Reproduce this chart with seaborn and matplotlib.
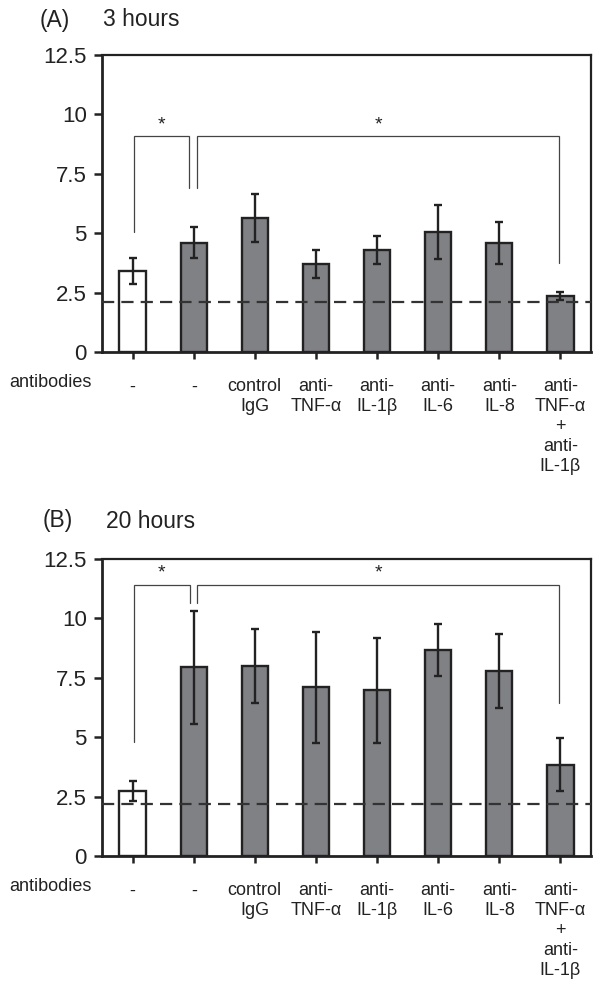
import numpy as np
import pandas as pd
import matplotlib
matplotlib.use("Agg")
import matplotlib.pyplot as plt
import seaborn as sns

# ---------------- data ----------------
groups = ["none_a", "none_b", "igg", "tnf", "il1b", "il6", "il8", "tnf_il1b"]
tick_labels = ["-", "-", "control\nIgG", "anti-\nTNF-α", "anti-\nIL-1β",
               "anti-\nIL-6", "anti-\nIL-8", "anti-\nTNF-α\n+\nanti-\nIL-1β"]
bar_colors = ["#ffffff", "#808185", "#808185", "#808185", "#808185",
              "#808185", "#808185", "#808185"]

vals_3h = [3.4, 4.6, 5.65, 3.7, 4.3, 5.05, 4.6, 2.35]
err_3h = [0.55, 0.66, 1.0, 0.6, 0.6, 1.15, 0.88, 0.17]
baseline_3h = 2.1

vals_20h = [2.75, 7.95, 8.0, 7.1, 6.97, 8.68, 7.8, 3.85]
err_20h = [0.42, 2.38, 1.55, 2.33, 2.2, 1.1, 1.56, 1.12]
baseline_20h = 2.2

yticks = [0, 2.5, 5, 7.5, 10, 12.5]
ytick_labels = ["0", "2.5", "5", "7.5", "10", "12.5"]

# significance brackets: (x_left, x_right, top, left_leg_bottom, right_leg_bottom)
brackets_3h = [(0.02, 0.93, 9.08, 5.06, 6.9), (1.06, 6.98, 9.08, 6.9, 3.75)]
brackets_20h = [(0.02, 0.94, 11.42, 4.8, 10.66), (1.06, 6.98, 11.42, 10.66, 6.44)]

panels = [("(A)", "3 hours", vals_3h, err_3h, baseline_3h, brackets_3h),
          ("(B)", "20 hours", vals_20h, err_20h, baseline_20h, brackets_20h)]

# ---------------- style ----------------
sns.set_style("ticks")
plt.rcParams["font.family"] = ["Liberation Sans", "DejaVu Sans"]

W, H = 593, 986
fig = plt.figure(figsize=(W / 100, H / 100), dpi=100)

axes_px = [(102, 55, 591, 352), (102, 559, 591, 856)]
title_px = [(40, 20), (43, 521)]

for (letter, title, vals, errs, base, brks), (l, t, r, b), (tx, ty) in zip(panels, axes_px, title_px):
    ax = fig.add_axes([l / W, 1 - b / H, (r - l) / W, (b - t) / H])
    df = pd.DataFrame({"group": groups, "value": vals})
    sns.barplot(data=df, x="group", y="value", hue="group", order=groups,
                hue_order=groups, palette=bar_colors, legend=False, width=0.43,
                edgecolor="#222222", linewidth=1.7, saturation=1, ax=ax)
    ax.errorbar(np.arange(len(groups)), vals, yerr=errs, fmt="none",
                ecolor="#222222", elinewidth=1.7, capsize=3, capthick=1.7, zorder=5)
    ax.axhline(base, color="#333333", lw=1.6, ls=(0, (5.5, 3.2)), zorder=6)

    for (x0, x1, ytop, yl, yr) in brks:
        ax.plot([x0, x0, x1, x1], [yl, ytop, ytop, yr], color="#444444", lw=0.9,
                solid_joinstyle="miter", zorder=4)
        ax.text((x0 + x1) / 2, ytop + 0.12, "*", ha="center", va="bottom",
                fontsize=14, color="#222222")

    ax.set_xlim(-0.5, len(groups) - 0.5)
    ax.set_ylim(0, 12.5)
    ax.set_yticks(yticks)
    ax.set_yticklabels(ytick_labels, fontsize=16, color="#222222")
    ax.set_xticks(np.arange(len(groups)))
    ax.set_xticklabels(tick_labels, fontsize=13, color="#222222", linespacing=1.22)
    ax.set_xlabel("")
    ax.set_ylabel("")
    ax.tick_params(axis="y", length=6, width=1.8, pad=5, color="#222222")
    ax.tick_params(axis="x", length=5, width=1.8, pad=14, color="#222222")
    for side in ["left", "bottom"]:
        ax.spines[side].set_linewidth(2.0)
        ax.spines[side].set_color("#222222")
    for side in ["top", "right"]:
        ax.spines[side].set_visible(True)
        ax.spines[side].set_linewidth(1.6)
        ax.spines[side].set_color("#222222")

    fig.text(tx / W, 1 - ty / H, letter, fontsize=16.5, va="center", ha="left", color="#222222")
    fig.text((tx + 63) / W, 1 - ty / H, title, fontsize=16.5, va="center", ha="left", color="#222222")
    fig.text(9 / W, 1 - (b + 22) / H, "antibodies", fontsize=13, va="top", ha="left", color="#222222")

fig.savefig("out.png", dpi=100)
